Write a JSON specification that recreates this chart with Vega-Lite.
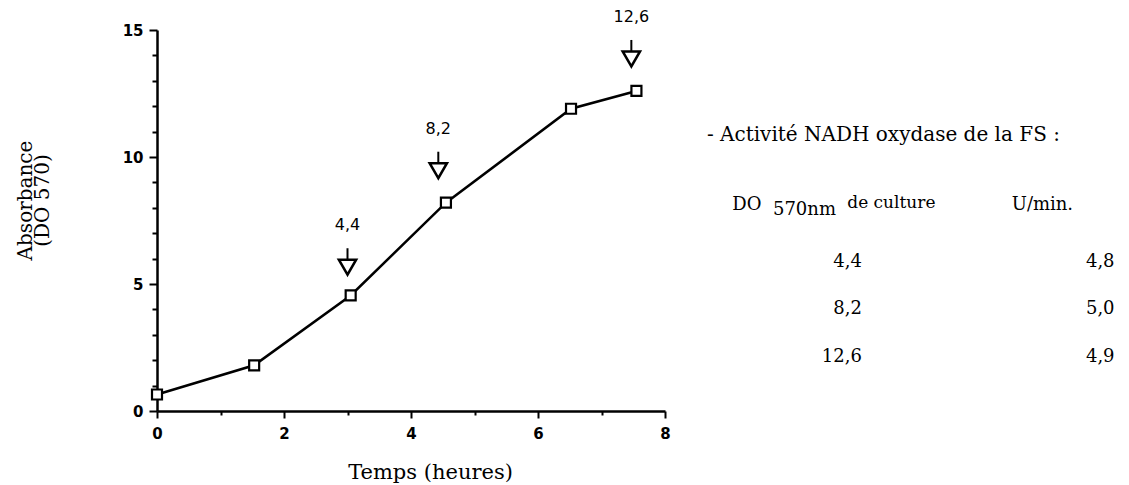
{
  "$schema": "https://vega.github.io/schema/vega-lite/v6.json",
  "width": 508,
  "height": 381,
  "autosize": "none",
  "padding": {"left": 157, "top": 30, "right": 464, "bottom": 74},
  "background": "white",
  "config": {
    "view": {"stroke": null},
    "axis": {
      "domainColor": "black",
      "domainWidth": 2.5,
      "tickColor": "black",
      "tickWidth": 2,
      "grid": false,
      "labelColor": "black",
      "labelFont": "DejaVu Sans",
      "labelFontSize": 15,
      "labelFontWeight": "bold",
      "labelOverlap": false,
      "labelFlush": false,
      "titleColor": "black",
      "titleFont": "DejaVu Serif",
      "titleFontSize": 20,
      "titleFontWeight": "normal"
    }
  },
  "layer": [
    {
      "layer": [
        {
          "data": {"values": [
            {"temps": 0, "absorbance": 0.65},
            {"temps": 1.53, "absorbance": 1.8},
            {"temps": 3.05, "absorbance": 4.55},
            {"temps": 4.55, "absorbance": 8.2},
            {"temps": 6.52, "absorbance": 11.9},
            {"temps": 7.55, "absorbance": 12.6}
          ]},
          "layer": [
            {
              "mark": {"type": "line", "color": "black", "strokeWidth": 2.5},
              "encoding": {
                "x": {
                  "field": "temps", "type": "quantitative",
                  "scale": {"domain": [0, 8], "nice": false, "zero": false},
                  "axis": {
                    "values": [0, 1, 2, 3, 4, 5, 6, 7, 8],
                    "labelExpr": "datum.value % 2 === 0 ? format(datum.value, 'd') : ''",
                    "tickSize": {"condition": {"test": "datum.value % 2 === 0", "value": 7}, "value": 4},
                    "labelOverlap": false,
                    "labelFlush": false,
                    "labelPadding": 8,
                    "title": "Temps (heures)",
                    "titleFontSize": 21,
                    "titleX": 273,
                    "titleY": 61,
                    "titleBaseline": "middle",
                    "titleAlign": "center"
                  }
                },
                "y": {
                  "field": "absorbance", "type": "quantitative",
                  "scale": {"domain": [0, 15], "nice": false},
                  "axis": {
                    "values": [0, 1, 2, 3, 4, 5, 6, 7, 8, 9, 10, 11, 12, 13, 14, 15],
                    "labelExpr": "datum.value % 5 === 0 ? format(datum.value, 'd') : ''",
                    "tickSize": {"condition": {"test": "datum.value % 5 === 0", "value": 8}, "value": 5},
                    "labelOverlap": false,
                    "labelFlush": false,
                    "labelPadding": 6,
                    "title": ["Absorbance", "(DO 570)"],
                    "titleLineHeight": 17,
                    "titleX": -122,
                    "titleY": 170,
                    "titleAlign": "center",
                    "titleBaseline": "bottom"
                  }
                }
              }
            },
            {
              "mark": {"type": "point", "shape": "square", "size": 100, "filled": true, "fill": "white", "stroke": "black", "strokeWidth": 2.2, "opacity": 1},
              "encoding": {
                "x": {"field": "temps", "type": "quantitative"},
                "y": {
                  "field": "absorbance", "type": "quantitative",
                  "axis": {
                    "values": [0, 1, 2, 3, 4, 5, 6, 7, 8, 9, 10, 11, 12, 13, 14, 15],
                    "labelExpr": "datum.value % 5 === 0 ? format(datum.value, 'd') : ''",
                    "tickSize": {"condition": {"test": "datum.value % 5 === 0", "value": 8}, "value": 5},
                    "labelOverlap": false,
                    "labelFlush": false,
                    "labelPadding": 6,
                    "title": ["Absorbance", "(DO 570)"],
                    "titleLineHeight": 17,
                    "titleX": -122,
                    "titleY": 170,
                    "titleAlign": "center",
                    "titleBaseline": "bottom"
                  }
                }
              }
            }
          ]
        },
        {
          "data": {"values": [
            {"temps": 3.0, "prelevement": 4.4, "etiquette": "4,4"},
            {"temps": 4.43, "prelevement": 8.2, "etiquette": "8,2"},
            {"temps": 7.47, "prelevement": 12.6, "etiquette": "12,6"}
          ]},
          "encoding": {
            "x": {"field": "temps", "type": "quantitative"},
            "y": {
              "field": "prelevement", "type": "quantitative",
              "axis": {
                "values": [0, 1, 2, 3, 4, 5, 6, 7, 8, 9, 10, 11, 12, 13, 14, 15],
                "labelExpr": "datum.value % 5 === 0 ? format(datum.value, 'd') : ''",
                "tickSize": {"condition": {"test": "datum.value % 5 === 0", "value": 8}, "value": 5},
                "labelOverlap": false,
                "labelFlush": false,
                "labelPadding": 6,
                "title": ["Absorbance", "(DO 570)"],
                "titleLineHeight": 17,
                "titleX": -122,
                "titleY": 170,
                "titleAlign": "center",
                "titleBaseline": "bottom"
              }
            }
          },
          "layer": [
            {
              "mark": {"type": "rule", "color": "black", "strokeWidth": 2, "yOffset": -51, "y2Offset": -36},
              "encoding": {
                "y2": {"field": "prelevement"}
              }
            },
            {
              "mark": {"type": "point", "shape": "triangle-down", "size": 300, "filled": true, "fill": "white", "stroke": "black", "strokeWidth": 2.5, "opacity": 1, "yOffset": -32}
            },
            {
              "mark": {"type": "text", "font": "DejaVu Sans", "fontSize": 16, "color": "black", "baseline": "middle", "align": "center", "yOffset": -74},
              "encoding": {
                "text": {"field": "etiquette"}
              }
            }
          ]
        }
      ]
    },
    {
      "layer": [
        {
          "data": {"values": [{"texte": "- Activité NADH oxydase de la FS :"}]},
          "mark": {"type": "text", "font": "DejaVu Serif", "fontSize": 20, "color": "black", "align": "left", "baseline": "middle"},
          "encoding": {
            "x": {"datum": 8.66, "type": "quantitative"},
            "y": {"datum": -1.67, "type": "quantitative", "scale": {"domain": [-3.88, 4.14], "reverse": true, "nice": false, "zero": false}, "axis": null},
            "text": {"field": "texte"}
          }
        },
        {
          "data": {"values": [{"texte": "DO"}]},
          "mark": {"type": "text", "font": "DejaVu Serif", "fontSize": 18, "color": "black", "align": "left", "baseline": "middle"},
          "encoding": {
            "x": {"datum": 9.06, "type": "quantitative"},
            "y": {"datum": -0.2, "type": "quantitative"},
            "text": {"field": "texte"}
          }
        },
        {
          "data": {"values": [{"texte": "570nm"}]},
          "mark": {"type": "text", "font": "DejaVu Serif", "fontSize": 18, "color": "black", "align": "left", "baseline": "middle"},
          "encoding": {
            "x": {"datum": 9.7, "type": "quantitative"},
            "y": {"datum": -0.1, "type": "quantitative"},
            "text": {"field": "texte"}
          }
        },
        {
          "data": {"values": [{"texte": "de culture"}]},
          "mark": {"type": "text", "font": "DejaVu Serif", "fontSize": 17, "color": "black", "align": "left", "baseline": "middle"},
          "encoding": {
            "x": {"datum": 10.87, "type": "quantitative"},
            "y": {"datum": -0.24, "type": "quantitative"},
            "text": {"field": "texte"}
          }
        },
        {
          "data": {"values": [{"texte": "U/min."}]},
          "mark": {"type": "text", "font": "DejaVu Serif", "fontSize": 18, "color": "black", "align": "left", "baseline": "middle"},
          "encoding": {
            "x": {"datum": 13.46, "type": "quantitative"},
            "y": {"datum": -0.2, "type": "quantitative"},
            "text": {"field": "texte"}
          }
        },
        {
          "data": {"values": [
            {"ligne": 1, "do_culture": "4,4", "activite": "4,8"},
            {"ligne": 2, "do_culture": "8,2", "activite": "5,0"},
            {"ligne": 3, "do_culture": "12,6", "activite": "4,9"}
          ]},
          "layer": [
            {
              "mark": {"type": "text", "font": "DejaVu Serif", "fontSize": 18, "color": "black", "align": "right", "baseline": "middle"},
              "encoding": {
                "x": {"datum": 11.1, "type": "quantitative"},
                "y": {"field": "ligne", "type": "quantitative"},
                "text": {"field": "do_culture"}
              }
            },
            {
              "mark": {"type": "text", "font": "DejaVu Serif", "fontSize": 18, "color": "black", "align": "right", "baseline": "middle"},
              "encoding": {
                "x": {"datum": 15.08, "type": "quantitative"},
                "y": {"field": "ligne", "type": "quantitative"},
                "text": {"field": "activite"}
              }
            }
          ]
        }
      ]
    }
  ],
  "resolve": {"scale": {"y": "independent"}, "axis": {"y": "independent"}}
}
